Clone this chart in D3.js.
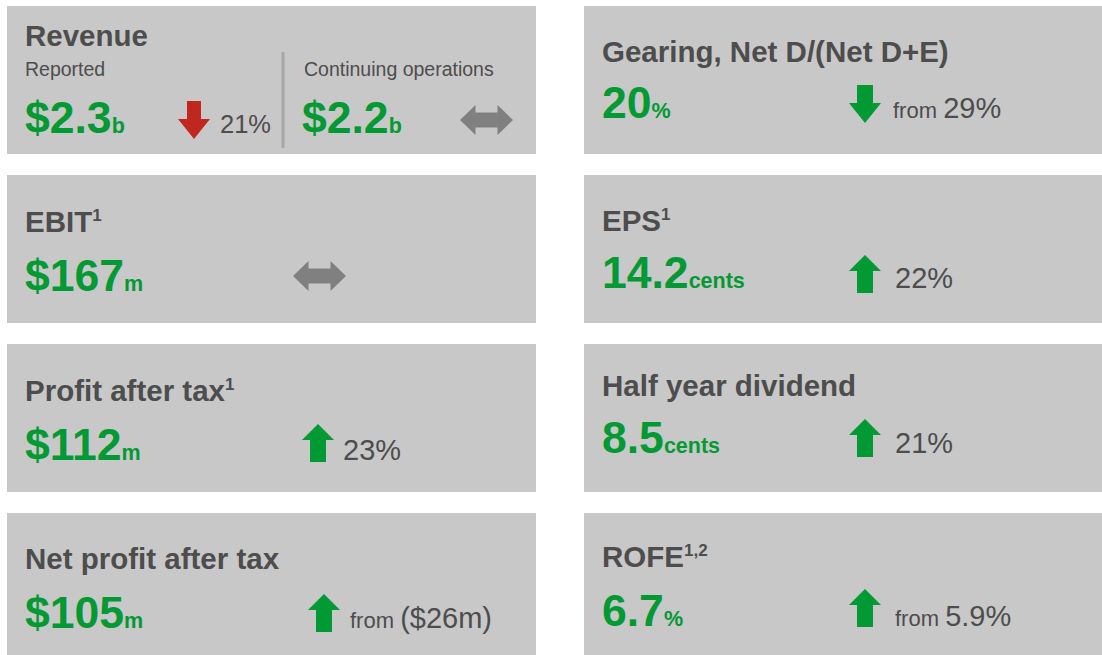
<!DOCTYPE html>
<html>
<head>
<meta charset="utf-8">
<script src="https://cdn.jsdelivr.net/npm/d3@7"></script>
<style>
  body { margin: 0; background: #fff; }
  svg text { font-family: "Liberation Sans", Arial, sans-serif; }
</style>
</head>
<body>
<div id="kpi"></div>
<script>
'use strict';

// kpi data (tile 0 is revenue, rest are simple tiles)
var titles       = ['Revenue', 'EBIT', 'Profit after tax', 'Net profit after tax',
                    'Gearing, Net D/(Net D+E)', 'EPS', 'Half year dividend', 'ROFE'];
var superscripts = ['', '1', '1', '', '', '1', '', '1,2'];
var values       = ['$2.3', '$167', '$112', '$105', '20', '14.2', '8.5', '6.7'];
var units        = ['b', 'm', 'm', 'm', '%', 'cents', 'cents', '%'];
var directions   = ['down', 'flat', 'up', 'up', 'down', 'up', 'up', 'up'];
var changeFrom   = ['', '', '', 'from', 'from', '', '', 'from'];
var changeLabels = ['21%', '', '23%', '($26m)', '29%', '22%', '21%', '5.9%'];

// revenue split
var revenueLabels = ['Reported', 'Continuing operations'];
var revenueValues = ['$2.3', '$2.2'];
var revenueUnits  = ['b', 'b'];
var revenueDirs   = ['down', 'flat'];
var revenueChange = ['21%', ''];

var width = 1102, height = 655;
var green = '#009933', red = '#c0281f', grey = '#808080', dark = '#4d4d4d';

// tile placement
var cols = [{x: 7, w: 529}, {x: 584, w: 518}];
var rowY = d3.scaleBand().domain([0, 1, 2, 3]).range([6, 661]).paddingInner(0.124);

// per tile offsets: title y, value y, arrow x/y, change text x
var layout = [
  {col: 0, row: 0, ty: 40, vy: 127},
  {col: 0, row: 1, ty: 57, vy: 116, ax: 286, ay: 86},
  {col: 0, row: 2, ty: 57, vy: 116, ax: 295, ay: 80, cx: 336},
  {col: 0, row: 3, ty: 56, vy: 115, ax: 301, ay: 81, cx: 343},
  {col: 1, row: 0, ty: 56, vy: 112, ax: 265, ay: 79, cx: 309},
  {col: 1, row: 1, ty: 56, vy: 113, ax: 265, ay: 80, cx: 311},
  {col: 1, row: 2, ty: 52, vy: 109, ax: 265, ay: 75, cx: 311},
  {col: 1, row: 3, ty: 54, vy: 113, ax: 265, ay: 76, cx: 311}
];

// arrow outlines
var line = d3.line();
var arrowShape = function(dir, shaft){
  shaft = shaft || 16;
  var w = 32, h = 38, head = 16, s0 = (w - shaft) / 2, s1 = s0 + shaft;
  if(dir === 'up'){
    return line([[w/2,0],[w,head],[s1,head],[s1,h],[s0,h],[s0,head],[0,head]]) + 'Z';
  }
  if(dir === 'down'){
    return line([[s0,0],[s1,0],[s1,h-head-4],[w,h-head-4],[w/2,h],[0,h-head-4],[s0,h-head-4]]) + 'Z';
  }
  // flat double arrow
  var fw = 53, fh = 30, d = 15.5, t = 7.5;
  return line([[0,fh/2],[d,0],[d,t],[fw-d,t],[fw-d,0],[fw,fh/2],[fw-d,fh],[fw-d,fh-t],[d,fh-t],[d,fh]]) + 'Z';
};
var arrowColor = function(dir, isRed){
  if(dir === 'flat') return grey;
  return isRed ? red : green;
};

var svg = d3.select('#kpi').append('svg')
  .attr('width', width)
  .attr('height', height);

var tiles = svg.selectAll('g.tile').data(layout)
  .enter().append('g')
  .attr('class', 'tile')
  .attr('transform', function(d){ return 'translate(' + cols[d.col].x + ',' + rowY(d.row) + ')'; });

tiles.append('rect')
  .attr('width', function(d){ return cols[d.col].w; })
  .attr('height', rowY.bandwidth())
  .attr('fill', '#c8c8c8');

// titles
var title = tiles.append('text')
  .attr('x', 18)
  .attr('y', function(d){ return d.ty; })
  .attr('fill', dark)
  .attr('font-weight', 'bold')
  .attr('font-size', '29.5px');
title.append('tspan').text(function(d, i){ return titles[i]; });
title.append('tspan')
  .attr('font-size', '17px')
  .attr('dy', -11)
  .text(function(d, i){ return superscripts[i]; });

var addValue = function(sel, x, y, val, unit){
  var t = sel.append('text')
    .attr('x', x).attr('y', y)
    .attr('fill', green)
    .attr('font-weight', 'bold');
  t.append('tspan').attr('font-size', '44.5px').text(val);
  t.append('tspan').attr('font-size', '21.5px').text(unit);
};

var addChange = function(sel, x, y, from, label, size){
  var t = sel.append('text')
    .attr('x', x).attr('y', y)
    .attr('fill', dark);
  if(from) t.append('tspan').attr('font-size', '22px').text(from + ' ');
  t.append('tspan').attr('font-size', size || '29px').text(label);
};

// simple tiles
tiles.filter(function(d, i){ return i > 0; }).each(function(d){
  var i = layout.indexOf(d);
  var g = d3.select(this);
  addValue(g, 18, d.vy, values[i], units[i]);
  g.append('path')
    .attr('transform', 'translate(' + d.ax + ',' + d.ay + ')')
    .attr('d', arrowShape(directions[i]))
    .attr('fill', arrowColor(directions[i], false));
  if(changeLabels[i]) addChange(g, d.cx, d.vy, changeFrom[i], changeLabels[i]);
});

// revenue tile with two halves
var rev = tiles.filter(function(d, i){ return i === 0; });
var halfX = [18, 295];
var halfArrow = [{x: 171, y: 95}, {x: 453, y: 99}];

revenueLabels.forEach(function(lbl, j){
  rev.append('text')
    .attr('x', halfX[j] + (j ? 2 : 0))
    .attr('y', 70)
    .attr('fill', dark)
    .attr('font-size', '19.5px')
    .text(lbl);
  addValue(rev, halfX[j], 127, revenueValues[j], revenueUnits[j]);
  rev.append('path')
    .attr('transform', 'translate(' + halfArrow[j].x + ',' + halfArrow[j].y + ')')
    .attr('d', arrowShape(revenueDirs[j], 14))
    .attr('fill', arrowColor(revenueDirs[j], true));
  if(revenueChange[j]) addChange(rev, 213, 127, '', revenueChange[j], '25.5px');
});

rev.append('line')
  .attr('x1', 276).attr('x2', 276)
  .attr('y1', 46).attr('y2', 142)
  .attr('stroke', '#a6a6a6')
  .attr('stroke-width', 3);
</script>
</body>
</html>
